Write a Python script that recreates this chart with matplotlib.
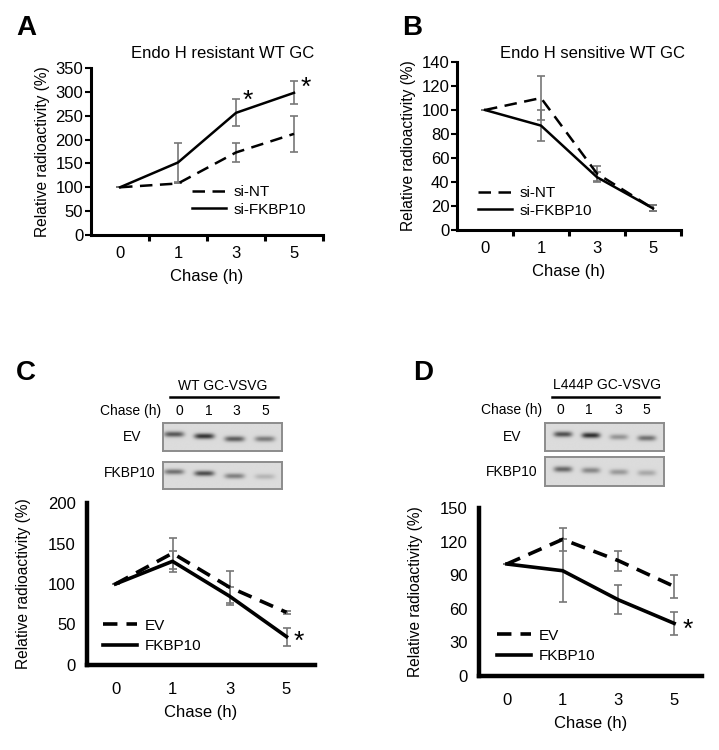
import numpy as np
import matplotlib
matplotlib.use('Agg')
import matplotlib.pyplot as plt
from matplotlib.ticker import FixedLocator

plt.rcParams['font.family'] = ['Liberation Sans', 'DejaVu Sans']

W, H = 719, 750

# ---- data ----
chase = ['0', '1', '3', '5']

a_nt = [100, 108, 173, 212]
a_nt_err = [0, 0, 19, 37]
a_fk = [100, 152, 256, 298]
a_fk_err = [0, 41, 28, 24]

b_nt = [100, 110, 47, 18]
b_nt_err = [0, 18, 6, 2.5]
b_fk = [100, 87, 44, 18]
b_fk_err = [0, 13, 4, 2.5]

c_ev = [100, 138, 96, 65]
c_ev_err = [0, 19, 20, 1.5]
c_fk = [100, 128, 85, 35]
c_fk_err = [0, 13, 11, 11]

d_ev = [100, 122, 103, 80]
d_ev_err = [0, 10, 9, 10]
d_fk = [100, 94, 68, 47]
d_fk_err = [0, 28, 13, 10]

# band darkness (lanes 0, 1, 3, 5)
gel_c_ev = [0.52, 0.66, 0.5, 0.38]
gel_c_fk = [0.42, 0.56, 0.36, 0.15]
gel_d_ev = [0.55, 0.68, 0.28, 0.42]
gel_d_fk = [0.46, 0.33, 0.26, 0.2]

fig = plt.figure(figsize=(W / 100, H / 100), dpi=100)


def fx(x):
    return x / W


def fy(y):
    return 1 - y / H


def axes_px(left, top, right, bottom):
    return fig.add_axes([left / W, 1 - bottom / H, (right - left) / W, (bottom - top) / H])


def line_panel(box, nt, nt_err, fk, fk_err, ylim, ystep, labels, lw, spine_w,
               dash, tick_marks, leg_xy, leg_space, xpad, xlabelpad, ylabelpad, ypad):
    ax = axes_px(*box)
    x = np.arange(len(chase))
    ax.errorbar(x, nt, yerr=nt_err, fmt='none', ecolor='#777777', elinewidth=1.2,
                capsize=3, capthick=1.2, zorder=2)
    ax.errorbar(x, fk, yerr=fk_err, fmt='none', ecolor='#777777', elinewidth=1.2,
                capsize=3, capthick=1.2, zorder=2)
    l1, = ax.plot(x, nt, color='black', lw=lw, dashes=dash, label=labels[0], zorder=3)
    l2, = ax.plot(x, fk, color='black', lw=lw, label=labels[1], zorder=3)
    ax.set_xlim(-0.5, 3.5)
    ax.set_ylim(*ylim)
    ax.set_yticks(np.arange(ylim[0], ylim[1] + 1, ystep))
    ax.set_xticks(x)
    ax.set_xticklabels(chase)
    for s in ['top', 'right']:
        ax.spines[s].set_visible(False)
    for s in ['left', 'bottom']:
        ax.spines[s].set_linewidth(spine_w)
    ax.tick_params(axis='x', which='major', length=0, pad=xpad, labelsize=12)
    if tick_marks:
        ax.xaxis.set_minor_locator(FixedLocator([0.5, 1.5, 2.5, 3.5]))
        ax.tick_params(axis='x', which='minor', length=4, width=spine_w, direction='out')
        ax.tick_params(axis='y', length=4, width=1.5, pad=1.5, labelsize=12)
    else:
        ax.tick_params(axis='y', length=0, pad=ypad, labelsize=12)
    ax.set_xlabel('Chase (h)', fontsize=12, labelpad=xlabelpad)
    ax.set_ylabel('Relative radioactivity (%)', fontsize=11.2, labelpad=ylabelpad)
    ax.legend(handles=[l1, l2], loc='center left',
              bbox_to_anchor=(fx(leg_xy[0]), fy(leg_xy[1])), bbox_transform=fig.transFigure,
              frameon=False, borderpad=0, borderaxespad=0, handlelength=2.2,
              handletextpad=0.5, labelspacing=leg_space, fontsize=11)
    return ax


def gel(box, xlim, vals, band_y):
    ax = axes_px(*box)
    xs = np.linspace(xlim[0], xlim[1], 300)
    ys = np.linspace(0, 1, 80)
    X, Y = np.meshgrid(xs, ys)
    img = np.full(X.shape, 0.14)
    for i, v in enumerate(vals):
        img += v * np.exp(-((X - i) / 0.33) ** 4) * np.exp(-((Y - band_y[i]) / 0.1) ** 2)
    ax.imshow(img, extent=[xlim[0], xlim[1], 0, 1], origin='lower', cmap='gray_r',
              vmin=0, vmax=1, aspect='auto', interpolation='bilinear')
    ax.set_xlim(*xlim)
    ax.set_ylim(0, 1)
    ax.set_xticks([])
    ax.set_yticks([])
    for s in ax.spines.values():
        s.set_color('#8c8c8c')
        s.set_linewidth(1.4)
    return ax


# ---- panel A ----
axA = line_panel((91, 68, 323, 235), a_nt, a_nt_err, a_fk, a_fk_err, (0, 350), 50,
                 ['si-NT', 'si-FKBP10'], 1.8, 2.2, (5, 3), True, (192, 201), 0.2,
                 8, 6, 4, 0)
axA.text(2.2, 281, '*', fontsize=19, ha='center', va='center')
axA.text(3.2, 308, '*', fontsize=19, ha='center', va='center')
fig.text(fx(223), fy(53), 'Endo H resistant WT GC', fontsize=12, ha='center', va='center')
fig.text(fx(16), fy(28), 'A', fontsize=20, fontweight='bold', ha='left', va='center')

# ---- panel B ----
axB = line_panel((457, 62, 681, 230), b_nt, b_nt_err, b_fk, b_fk_err, (0, 140), 20,
                 ['si-NT', 'si-FKBP10'], 1.8, 2.2, (5, 3), True, (478, 202), 0.2,
                 8, 6, 4, 0)
fig.text(fx(592), fy(53), 'Endo H sensitive WT GC', fontsize=12, ha='center', va='center')
fig.text(fx(402), fy(28), 'B', fontsize=20, fontweight='bold', ha='left', va='center')

# ---- panel C ----
axC = line_panel((87, 503, 315, 665), c_ev, c_ev_err, c_fk, c_fk_err, (0, 200), 50,
                 ['EV', 'FKBP10'], 2.6, 3.2, (4, 2.5), False, (103, 636), 0.45,
                 12, 6, 12, 8)
axC.text(3.22, 28, '*', fontsize=19, ha='center', va='center')
fig.text(fx(16), fy(373), 'C', fontsize=20, fontweight='bold', ha='left', va='center')

fig.text(fx(223), fy(386), 'WT GC-VSVG', fontsize=10, ha='center', va='center')
fig.add_artist(plt.Line2D([fx(170), fx(278)], [fy(397), fy(397)], color='black', lw=1.8))
fig.text(fx(131), fy(411), 'Chase (h)', fontsize=10, ha='center', va='center')
for lx, lab in zip([179, 209, 236, 265], chase):
    fig.text(fx(lx), fy(411), lab, fontsize=10, ha='center', va='center')
fig.text(fx(132), fy(437), 'EV', fontsize=10, ha='center', va='center')
fig.text(fx(130), fy(473), 'FKBP10', fontsize=10, ha='center', va='center')
gel((163, 423, 282, 451), (-0.36, 3.56), gel_c_ev, [0.6, 0.53, 0.43, 0.43])
gel((163, 462, 282, 489), (-0.36, 3.56), gel_c_fk, [0.64, 0.58, 0.48, 0.46])

# ---- panel D ----
axD = line_panel((479, 508, 702, 676), d_ev, d_ev_err, d_fk, d_fk_err, (0, 150), 30,
                 ['EV', 'FKBP10'], 2.6, 3.2, (4, 2.5), False, (497, 646), 0.45,
                 12, 6, 12, 8)
axD.text(3.24, 41, '*', fontsize=19, ha='center', va='center')
fig.text(fx(413), fy(373), 'D', fontsize=20, fontweight='bold', ha='left', va='center')

fig.text(fx(607), fy(385), 'L444P GC-VSVG', fontsize=10, ha='center', va='center')
fig.add_artist(plt.Line2D([fx(552), fx(659)], [fy(397), fy(397)], color='black', lw=1.8))
fig.text(fx(512), fy(410), 'Chase (h)', fontsize=10, ha='center', va='center')
for lx, lab in zip([560, 589, 618, 646], chase):
    fig.text(fx(lx), fy(410), lab, fontsize=10, ha='center', va='center')
fig.text(fx(512), fy(437), 'EV', fontsize=10, ha='center', va='center')
fig.text(fx(512), fy(472), 'FKBP10', fontsize=10, ha='center', va='center')
gel((545, 423, 664, 451), (-0.64, 3.61), gel_d_ev, [0.6, 0.56, 0.5, 0.46])
gel((545, 457, 664, 486), (-0.64, 3.61), gel_d_fk, [0.58, 0.54, 0.48, 0.45])

fig.savefig('out.png', dpi=100)
